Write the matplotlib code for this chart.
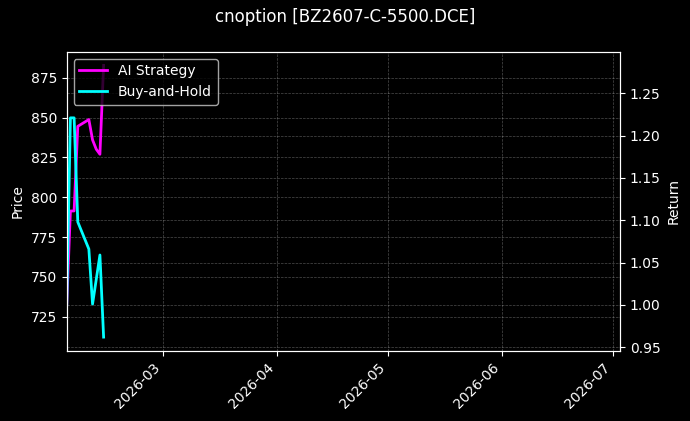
import pandas as pd
import matplotlib
matplotlib.use('Agg')
import matplotlib.pyplot as plt
import matplotlib.dates as mdates

plt.style.use('dark_background')

# daily closes around the spring festival
dates = pd.to_datetime(['2026-02-03', '2026-02-04', '2026-02-05', '2026-02-06', '2026-02-09',
                        '2026-02-10', '2026-02-11', '2026-02-12', '2026-02-13'])
ai_ret = [1.000, 1.111, 1.111, 1.211, 1.219, 1.195, 1.184, 1.178, 1.283]
bh_ret = [1.000, 1.221, 1.221, 1.098, 1.066, 1.001, 1.030, 1.059, 0.962]
price_range = (703.7, 891.3)
x_end = pd.Timestamp('2026-07-03')

fig, ax1 = plt.subplots(figsize=(6.9, 4.21), dpi=100)
fig.subplots_adjust(left=0.0967, right=0.8986, top=0.877, bottom=0.167)

ax1.set_ylim(*price_range)
ax1.set_ylabel('Price')
ax1.grid(True, linestyle='--', linewidth=0.5, alpha=0.3)

ax2 = ax1.twinx()
ax2.plot(dates, ai_ret, color='#ff00ff', linewidth=2, label='AI Strategy')
ax2.plot(dates, bh_ret, color='#00ffff', linewidth=2, label='Buy-and-Hold')
ax2.set_ylabel('Return')
ax2.grid(True, linestyle='--', linewidth=0.5, alpha=0.3)
ax2.legend(loc='upper left')

ax1.set_xlim(dates[0], x_end)
ax1.xaxis.set_major_locator(mdates.MonthLocator())
ax1.xaxis.set_major_formatter(mdates.DateFormatter('%Y-%m'))
plt.setp(ax1.get_xticklabels(), rotation=45, ha='right')

fig.suptitle('cnoption [BZ2607-C-5500.DCE]', fontsize=12)

fig.savefig('out.png', dpi=100)
